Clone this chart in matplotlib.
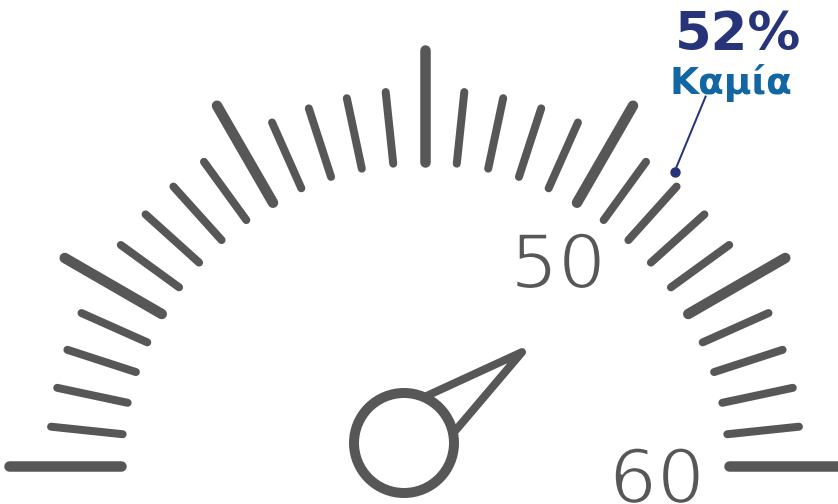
import numpy as np
import matplotlib
matplotlib.use("Agg")
import matplotlib.pyplot as plt
import matplotlib.patheffects as pe
from matplotlib.patches import Circle, Polygon

# ---- data ----
scale_min = 30
scale_max = 60
tick_values = list(range(30, 61))
major_step = 5
label_values = [50, 60]
pct_value = 52
pct_text = "52%"
category_text = "Καμία"

# ---- style / geometry ----
W, H = 838, 504
cx, cy = 425, 466
r_in = 304
r_major = 416
r_minor = 376
gray = "#575757"
navy = "#27347a"
blue = "#1267a3"
px = 72 / 100.0  # points per pixel at dpi 100


def ang(v):
    return np.deg2rad(180 - (v - scale_min) * 180.0 / (scale_max - scale_min))


def pol(r, a, ox=cx, oy=cy):
    return ox + r * np.cos(a), oy - r * np.sin(a)


fig = plt.figure(figsize=(W / 100, H / 100), dpi=100)
ax = fig.add_axes([0, 0, 1, 1])
ax.set_xlim(0, W)
ax.set_ylim(H, 0)
ax.axis("off")

for v in tick_values:
    a = ang(v)
    major = (v - scale_min) % major_step == 0
    ro = r_major if major else r_minor
    x0, y0 = pol(r_in, a)
    x1, y1 = pol(ro, a)
    ax.plot([x0, x1], [y0, y1], color=gray,
            lw=(10.5 if major else 8) * px, solid_capstyle="round")

# scale labels (thinned DejaVu Sans to imitate a light geometric face)
label_offsets = {50: (13, 30), 60: (-8, 37)}
thin = [pe.Normal(), pe.Stroke(linewidth=2.6 * px, foreground="white")]
for v in label_values:
    x, y = pol(240, ang(v))
    dx, dy = label_offsets[v]
    ax.text(x + dx, y + dy, str(v), color=gray, fontsize=54,
            family=["DejaVu Sans"], ha="center", va="baseline",
            path_effects=thin)

# needle (decorative)
hx, hy, hr = 404, 443, 50
na = np.deg2rad(37.6)
tip = pol(149, na, hx, hy)
b1 = pol(53, na + np.deg2rad(26), hx, hy)
b2 = pol(53, na - np.deg2rad(24), hx, hy)
ax.add_patch(Polygon([b1, tip, b2], closed=False, fill=False, edgecolor=gray,
                     lw=8 * px, joinstyle="round", capstyle="round"))
ax.add_patch(Circle((hx, hy), hr, facecolor="white", edgecolor=gray,
                    lw=10 * px, zorder=3))

# annotation
a = ang(pct_value)
dxp, dyp = pol(r_minor, a)
dot = (dxp - 2, dyp - 15)
ax.plot(*dot, "o", color=navy, ms=9 * px)
ax.plot([dot[0], dot[0] + 31], [dot[1], dot[1] - 75], color=navy, lw=2 * px)
ax.text(738, 50, pct_text, color=navy, fontsize=38, fontweight="bold",
        family=["DejaVu Sans"], ha="center", va="baseline")
ax.text(731, 94, category_text, color=blue, fontsize=27, fontweight="bold",
        family=["DejaVu Sans"], ha="center", va="baseline")

fig.savefig("out.png", dpi=100)
